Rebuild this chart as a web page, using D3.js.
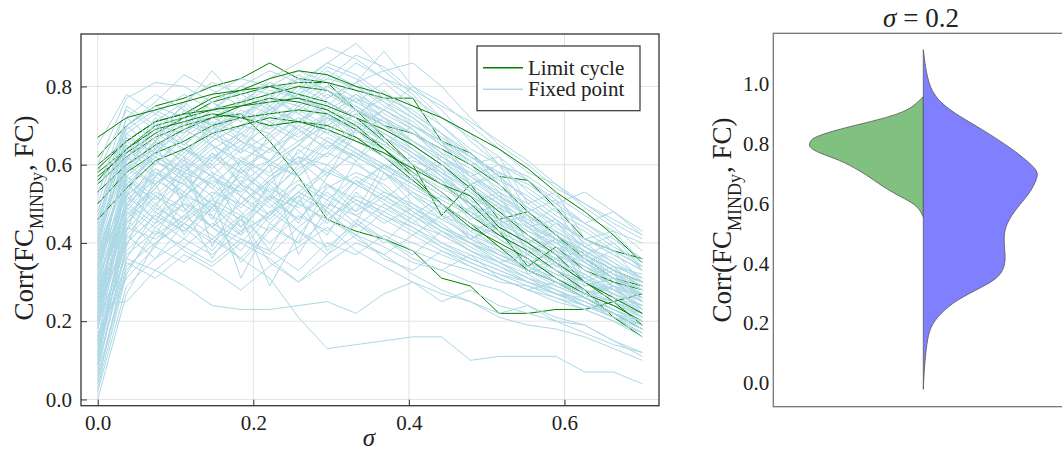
<!DOCTYPE html>
<html>
<head>
<meta charset="utf-8">
<script src="https://cdn.jsdelivr.net/npm/d3@7"></script>
<style>
  body { margin: 0; background: #fff; }
  text { font-family: "Liberation Serif", "DejaVu Serif", serif; fill: #222; }
</style>
</head>
<body>
<div id="chart"></div>
<script>
// sigma grid (20 points from 0 to 0.7)
const sigmaValues = [0, 0.037, 0.074, 0.111, 0.147, 0.184, 0.221, 0.258, 0.295, 0.332,
                     0.368, 0.405, 0.442, 0.479, 0.516, 0.553, 0.589, 0.626, 0.663, 0.7];

// Fixed point subjects (light blue)
const fixedPointSeries = [
  [0.30,0.55,0.62,0.58,0.66,0.70,0.74,0.78,0.82,0.80,0.76,0.70,0.66,0.55,0.57,0.44,0.46,0.35,0.38,0.30],
  [0.12,0.48,0.57,0.64,0.61,0.69,0.75,0.80,0.86,0.91,0.84,0.78,0.70,0.63,0.55,0.48,0.42,0.38,0.33,0.29],
  [0.42,0.63,0.70,0.68,0.74,0.72,0.79,0.77,0.83,0.79,0.73,0.69,0.61,0.55,0.50,0.44,0.38,0.35,0.31,0.27],
  [0.20,0.52,0.58,0.55,0.62,0.66,0.63,0.71,0.75,0.81,0.89,0.80,0.74,0.66,0.60,0.56,0.50,0.45,0.40,0.34],
  [0.35,0.60,0.64,0.71,0.69,0.75,0.80,0.84,0.81,0.77,0.72,0.65,0.60,0.54,0.45,0.47,0.34,0.37,0.26,0.24],
  [0.08,0.40,0.47,0.52,0.49,0.58,0.61,0.66,0.70,0.74,0.71,0.68,0.64,0.57,0.51,0.45,0.41,0.35,0.30,0.26],
  [0.48,0.68,0.73,0.78,0.74,0.80,0.78,0.82,0.79,0.75,0.70,0.64,0.58,0.50,0.46,0.40,0.35,0.30,0.27,0.22],
  [0.25,0.45,0.52,0.48,0.56,0.53,0.60,0.57,0.65,0.62,0.68,0.63,0.59,0.50,0.53,0.40,0.43,0.31,0.34,0.25],
  [0.15,0.38,0.45,0.50,0.44,0.40,0.48,0.52,0.58,0.55,0.60,0.56,0.50,0.45,0.42,0.37,0.33,0.30,0.26,0.22],
  [0.38,0.58,0.66,0.62,0.70,0.73,0.77,0.75,0.80,0.86,0.82,0.79,0.72,0.68,0.60,0.57,0.52,0.47,0.43,0.40],
  [0.22,0.50,0.61,0.57,0.52,0.59,0.64,0.68,0.72,0.70,0.66,0.60,0.56,0.49,0.45,0.39,0.34,0.32,0.27,0.24],
  [0.05,0.33,0.42,0.47,0.53,0.50,0.57,0.62,0.60,0.67,0.64,0.58,0.54,0.50,0.44,0.40,0.36,0.32,0.28,0.23],
  [0.45,0.66,0.71,0.76,0.81,0.78,0.74,0.80,0.76,0.72,0.67,0.62,0.56,0.47,0.50,0.37,0.41,0.29,0.31,0.23],
  [0.28,0.57,0.50,0.56,0.63,0.58,0.52,0.60,0.66,0.62,0.58,0.53,0.49,0.43,0.39,0.36,0.31,0.27,0.24,0.20],
  [0.18,0.46,0.55,0.60,0.66,0.70,0.68,0.75,0.72,0.78,0.74,0.70,0.65,0.60,0.53,0.47,0.42,0.37,0.32,0.30],
  [0.32,0.62,0.68,0.64,0.59,0.65,0.70,0.66,0.72,0.69,0.63,0.57,0.52,0.48,0.42,0.38,0.35,0.30,0.26,0.21],
  [0.10,0.42,0.50,0.44,0.38,0.46,0.52,0.49,0.55,0.51,0.48,0.53,0.47,0.41,0.37,0.33,0.29,0.26,0.23,0.19],
  [0.40,0.64,0.60,0.67,0.72,0.76,0.73,0.79,0.85,0.82,0.77,0.74,0.68,0.63,0.57,0.51,0.46,0.40,0.35,0.31],
  [0.26,0.54,0.63,0.69,0.65,0.60,0.67,0.72,0.68,0.64,0.60,0.55,0.50,0.41,0.44,0.33,0.36,0.27,0.29,0.22],
  [0.55,0.70,0.75,0.72,0.78,0.82,0.80,0.77,0.74,0.78,0.72,0.68,0.62,0.58,0.52,0.47,0.41,0.38,0.34,0.28],
  [0.14,0.44,0.41,0.47,0.42,0.36,0.44,0.40,0.46,0.51,0.47,0.44,0.40,0.37,0.34,0.31,0.28,0.25,0.22,0.18],
  [0.36,0.60,0.55,0.62,0.68,0.64,0.71,0.74,0.79,0.76,0.81,0.75,0.70,0.64,0.60,0.53,0.48,0.44,0.39,0.35],
  [0.19,0.49,0.58,0.53,0.48,0.55,0.51,0.46,0.54,0.58,0.55,0.49,0.45,0.40,0.36,0.33,0.30,0.28,0.24,0.21],
  [0.44,0.61,0.67,0.73,0.70,0.66,0.73,0.78,0.74,0.71,0.67,0.63,0.57,0.49,0.52,0.40,0.36,0.38,0.28,0.27],
  [0.24,0.55,0.48,0.43,0.50,0.46,0.40,0.47,0.43,0.50,0.46,0.42,0.47,0.44,0.38,0.35,0.30,0.27,0.25,0.21],
  [0.31,0.58,0.65,0.61,0.67,0.63,0.68,0.74,0.70,0.75,0.71,0.66,0.61,0.58,0.52,0.48,0.43,0.38,0.34,0.32],
  [0.02,0.29,0.36,0.41,0.37,0.43,0.47,0.53,0.49,0.56,0.52,0.48,0.44,0.41,0.38,0.33,0.30,0.26,0.22,0.18],
  [0.50,0.72,0.78,0.74,0.70,0.76,0.81,0.78,0.84,0.80,0.75,0.71,0.65,0.61,0.55,0.49,0.45,0.39,0.36,0.31],
  [0.21,0.47,0.54,0.62,0.57,0.64,0.61,0.69,0.73,0.67,0.64,0.59,0.55,0.50,0.45,0.41,0.37,0.34,0.30,0.27],
  [0.33,0.56,0.51,0.58,0.55,0.49,0.56,0.62,0.58,0.63,0.58,0.52,0.48,0.41,0.45,0.32,0.35,0.26,0.29,0.23],
  [0.27,0.51,0.57,0.63,0.69,0.73,0.70,0.76,0.82,0.88,0.85,0.79,0.75,0.71,0.66,0.61,0.55,0.50,0.46,0.42],
  [0.16,0.37,0.43,0.39,0.35,0.41,0.38,0.33,0.40,0.37,0.42,0.38,0.35,0.33,0.30,0.29,0.26,0.24,0.21,0.17],
  [0.39,0.65,0.61,0.56,0.62,0.58,0.64,0.60,0.67,0.63,0.59,0.62,0.57,0.52,0.48,0.43,0.40,0.35,0.31,0.28],
  [0.11,0.43,0.52,0.59,0.55,0.61,0.58,0.65,0.62,0.69,0.74,0.70,0.66,0.57,0.60,0.48,0.51,0.39,0.42,0.33],
  [0.46,0.67,0.63,0.70,0.76,0.72,0.77,0.73,0.78,0.74,0.69,0.65,0.60,0.54,0.49,0.45,0.40,0.36,0.32,0.26],
  [0.29,0.53,0.46,0.52,0.58,0.54,0.49,0.55,0.51,0.57,0.53,0.50,0.46,0.42,0.39,0.35,0.32,0.28,0.25,0.22],
  [0.06,0.34,0.40,0.46,0.51,0.47,0.54,0.50,0.46,0.52,0.49,0.45,0.42,0.38,0.35,0.32,0.28,0.25,0.21,0.17],
  [0.53,0.69,0.74,0.70,0.76,0.80,0.84,0.81,0.86,0.83,0.78,0.73,0.68,0.62,0.57,0.51,0.46,0.41,0.37,0.33],
  [0.23,0.56,0.62,0.58,0.64,0.68,0.64,0.70,0.66,0.62,0.58,0.54,0.50,0.43,0.46,0.35,0.38,0.27,0.30,0.25],
  [0.37,0.59,0.66,0.72,0.68,0.74,0.71,0.67,0.73,0.69,0.65,0.60,0.56,0.52,0.47,0.42,0.38,0.34,0.29,0.27],
  [0.13,0.41,0.49,0.45,0.51,0.57,0.53,0.59,0.63,0.60,0.56,0.61,0.58,0.53,0.48,0.43,0.39,0.34,0.31,0.26],
  [0.34,0.52,0.59,0.55,0.50,0.44,0.51,0.56,0.52,0.48,0.53,0.49,0.44,0.40,0.37,0.34,0.31,0.27,0.24,0.22],
  [0.58,0.74,0.69,0.75,0.84,0.76,0.81,0.77,0.73,0.77,0.70,0.66,0.61,0.56,0.51,0.47,0.42,0.37,0.33,0.29],
  [0.09,0.36,0.33,0.39,0.45,0.41,0.37,0.44,0.50,0.47,0.43,0.40,0.37,0.34,0.31,0.28,0.26,0.23,0.20,0.16],
  [0.41,0.62,0.57,0.64,0.60,0.67,0.74,0.71,0.77,0.81,0.84,0.86,0.80,0.72,0.65,0.60,0.54,0.50,0.45,0.41],
  [0.24,0.25,0.33,0.29,0.24,0.23,0.23,0.24,0.25,0.22,0.27,0.30,0.25,0.28,0.24,0.22,0.20,0.19,0.15,0.12],
  [0.17,0.31,0.39,0.35,0.41,0.36,0.31,0.21,0.13,0.14,0.15,0.16,0.16,0.10,0.11,0.11,0.11,0.07,0.07,0.04],
  [0.00,0.27,0.40,0.45,0.41,0.47,0.43,0.50,0.46,0.42,0.39,0.35,0.33,0.30,0.28,0.24,0.21,0.19,0.15,0.11],
  [0.03,0.32,0.44,0.38,0.34,0.40,0.36,0.30,0.35,0.40,0.37,0.32,0.28,0.25,0.22,0.24,0.20,0.17,0.14,0.12],
  [0.60,0.77,0.81,0.80,0.76,0.71,0.77,0.83,0.79,0.74,0.70,0.65,0.60,0.55,0.50,0.46,0.41,0.36,0.32,0.28],
  [0.43,0.70,0.76,0.83,0.79,0.75,0.82,0.86,0.90,0.87,0.82,0.77,0.72,0.67,0.62,0.56,0.51,0.45,0.41,0.36],
  [0.65,0.78,0.73,0.69,0.74,0.79,0.75,0.71,0.76,0.72,0.68,0.64,0.59,0.54,0.50,0.44,0.41,0.37,0.33,0.30],
  [0.19,0.40,0.47,0.43,0.49,0.55,0.61,0.57,0.63,0.69,0.65,0.70,0.66,0.62,0.58,0.54,0.49,0.45,0.48,0.43],
  [0.37,0.57,0.63,0.59,0.65,0.61,0.66,0.72,0.68,0.73,0.77,0.72,0.67,0.62,0.58,0.55,0.50,0.53,0.48,0.42],
  [0.26,0.46,0.53,0.49,0.44,0.50,0.46,0.53,0.59,0.55,0.51,0.47,0.52,0.48,0.44,0.40,0.45,0.41,0.38,0.34],
  [0.31,0.49,0.44,0.50,0.47,0.42,0.48,0.43,0.39,0.45,0.41,0.37,0.43,0.39,0.35,0.37,0.33,0.29,0.31,0.27],
  [0.21,0.59,0.55,0.61,0.57,0.53,0.60,0.65,0.71,0.77,0.74,0.80,0.76,0.70,0.64,0.58,0.55,0.49,0.44,0.38],
  [0.47,0.64,0.69,0.65,0.71,0.68,0.73,0.69,0.64,0.70,0.74,0.69,0.63,0.55,0.58,0.45,0.49,0.37,0.40,0.33],
  [0.14,0.35,0.31,0.37,0.33,0.28,0.34,0.39,0.44,0.38,0.34,0.30,0.27,0.25,0.21,0.19,0.18,0.16,0.13,0.10],
  [0.35,0.50,0.56,0.52,0.57,0.52,0.47,0.53,0.49,0.44,0.50,0.46,0.40,0.36,0.33,0.30,0.27,0.24,0.22,0.19],
  [0.29,0.47,0.55,0.42,0.52,0.31,0.45,0.40,0.55,0.48,0.60,0.52,0.46,0.49,0.41,0.36,0.32,0.30,0.27,0.24],
  [0.18,0.52,0.66,0.49,0.36,0.47,0.29,0.42,0.51,0.45,0.58,0.50,0.44,0.40,0.35,0.31,0.27,0.26,0.22,0.19],
  [0.33,0.61,0.72,0.66,0.58,0.44,0.55,0.62,0.47,0.56,0.50,0.45,0.50,0.42,0.37,0.34,0.30,0.27,0.23,0.20],
  [0.09,0.45,0.54,0.62,0.39,0.52,0.60,0.37,0.49,0.61,0.54,0.48,0.43,0.38,0.34,0.30,0.28,0.24,0.22,0.18],
  [0.40,0.68,0.62,0.74,0.65,0.55,0.68,0.60,0.72,0.66,0.62,0.57,0.60,0.53,0.47,0.44,0.39,0.36,0.31,0.28],
  [0.22,0.58,0.71,0.63,0.70,0.59,0.51,0.64,0.57,0.69,0.62,0.58,0.53,0.46,0.49,0.38,0.41,0.30,0.33,0.25],
  [0.27,0.50,0.45,0.58,0.47,0.35,0.43,0.52,0.38,0.46,0.41,0.36,0.33,0.37,0.31,0.28,0.25,0.23,0.20,0.17],
  [0.07,0.39,0.57,0.51,0.63,0.55,0.47,0.58,0.66,0.61,0.67,0.62,0.57,0.51,0.46,0.42,0.38,0.33,0.29,0.26],
  [0.45,0.72,0.66,0.76,0.70,0.63,0.75,0.69,0.64,0.71,0.66,0.60,0.55,0.50,0.46,0.41,0.37,0.33,0.29,0.25],
  [0.16,0.43,0.61,0.56,0.46,0.59,0.53,0.45,0.57,0.64,0.59,0.55,0.51,0.47,0.43,0.39,0.35,0.31,0.27,0.24],
  [0.30,0.64,0.58,0.53,0.61,0.68,0.60,0.65,0.73,0.68,0.72,0.66,0.62,0.57,0.53,0.49,0.44,0.39,0.35,0.30],
  [0.12,0.46,0.39,0.51,0.44,0.56,0.50,0.43,0.37,0.45,0.40,0.47,0.42,0.38,0.35,0.31,0.29,0.26,0.23,0.20],
  [0.52,0.75,0.70,0.65,0.72,0.69,0.76,0.82,0.77,0.81,0.76,0.72,0.66,0.61,0.56,0.52,0.47,0.43,0.38,0.34],
  [0.20,0.55,0.49,0.60,0.54,0.48,0.38,0.51,0.45,0.54,0.60,0.55,0.50,0.45,0.41,0.37,0.33,0.30,0.28,0.24],
  [0.36,0.53,0.64,0.57,0.49,0.61,0.55,0.48,0.42,0.53,0.47,0.43,0.39,0.35,0.32,0.29,0.27,0.24,0.21,0.18],
  [0.04,0.36,0.48,0.55,0.50,0.42,0.56,0.50,0.60,0.55,0.51,0.57,0.52,0.48,0.43,0.39,0.36,0.31,0.28,0.25],
  [0.42,0.66,0.60,0.68,0.73,0.66,0.61,0.70,0.76,0.72,0.79,0.73,0.68,0.60,0.62,0.50,0.53,0.41,0.43,0.35],
  [0.25,0.57,0.52,0.46,0.57,0.50,0.56,0.61,0.55,0.50,0.45,0.49,0.44,0.40,0.37,0.34,0.31,0.28,0.26,0.23],
  [0.11,0.48,0.42,0.53,0.60,0.52,0.45,0.52,0.48,0.41,0.37,0.42,0.38,0.35,0.32,0.30,0.27,0.24,0.21,0.19],
  [0.38,0.62,0.69,0.75,0.68,0.72,0.78,0.73,0.69,0.73,0.68,0.63,0.58,0.54,0.49,0.45,0.41,0.36,0.32,0.29],
  [0.28,0.49,0.59,0.52,0.44,0.38,0.47,0.55,0.48,0.42,0.48,0.44,0.39,0.36,0.33,0.30,0.27,0.25,0.22,0.20],
  [0.15,0.52,0.46,0.41,0.49,0.43,0.52,0.46,0.53,0.47,0.52,0.47,0.43,0.40,0.36,0.33,0.30,0.27,0.25,0.21],
  [0.34,0.60,0.67,0.60,0.54,0.62,0.57,0.63,0.69,0.64,0.60,0.56,0.62,0.57,0.52,0.47,0.43,0.39,0.34,0.31],
  [0.48,0.70,0.64,0.71,0.67,0.73,0.69,0.75,0.80,0.76,0.72,0.68,0.63,0.59,0.54,0.50,0.45,0.41,0.37,0.33],
  [0.23,0.42,0.36,0.45,0.40,0.46,0.35,0.30,0.37,0.42,0.36,0.33,0.38,0.34,0.31,0.28,0.30,0.26,0.23,0.20]
];

// Limit cycle subjects (green)
const limitCycleSeries = [
  [0.62,0.70,0.75,0.77,0.80,0.82,0.86,0.82,0.81,0.74,0.70,0.68,0.64,0.60,0.55,0.48,0.42,0.37,0.33,0.30],
  [0.58,0.64,0.70,0.72,0.76,0.78,0.80,0.81,0.81,0.79,0.77,0.77,0.66,0.63,0.57,0.56,0.49,0.41,0.38,0.36],
  [0.55,0.62,0.67,0.70,0.72,0.73,0.66,0.57,0.46,0.43,0.41,0.38,0.31,0.29,0.22,0.22,0.23,0.23,0.25,0.27],
  [0.60,0.66,0.71,0.73,0.77,0.79,0.80,0.78,0.76,0.72,0.66,0.60,0.47,0.55,0.46,0.48,0.42,0.36,0.31,0.29],
  [0.57,0.63,0.68,0.72,0.74,0.76,0.78,0.80,0.79,0.74,0.67,0.60,0.55,0.50,0.43,0.34,0.39,0.33,0.30,0.28],
  [0.53,0.60,0.65,0.69,0.72,0.75,0.77,0.76,0.74,0.70,0.64,0.58,0.53,0.47,0.42,0.38,0.33,0.28,0.21,0.16],
  [0.50,0.58,0.63,0.66,0.70,0.72,0.73,0.74,0.73,0.69,0.64,0.57,0.50,0.44,0.40,0.36,0.31,0.27,0.24,0.20],
  [0.46,0.54,0.61,0.64,0.68,0.70,0.72,0.71,0.70,0.67,0.62,0.56,0.50,0.45,0.39,0.33,0.30,0.26,0.22,0.18],
  [0.59,0.66,0.71,0.73,0.74,0.75,0.76,0.77,0.75,0.72,0.69,0.65,0.60,0.54,0.48,0.42,0.37,0.30,0.26,0.22],
  [0.56,0.64,0.69,0.71,0.73,0.72,0.70,0.71,0.69,0.66,0.63,0.59,0.55,0.52,0.44,0.40,0.35,0.30,0.25,0.19],
  [0.67,0.72,0.74,0.76,0.78,0.79,0.82,0.84,0.83,0.80,0.78,0.75,0.72,0.68,0.64,0.59,0.53,0.48,0.42,0.35]
];

// Ticks
const xTicks = [0, 0.2, 0.4, 0.6];
const yTicks = [0, 0.2, 0.4, 0.6, 0.8];
const violinTicks = [0, 0.2, 0.4, 0.6, 0.8, 1.0];

// Violin at sigma = 0.2: correlation value and relative half-width
const violinLimitY = [0.556,0.57,0.595,0.623,0.65,0.679,0.71,0.746,0.77,0.79,0.81,0.824,0.852,0.886,0.91,0.925,0.958];
const violinLimitW = [0,0.02,0.06,0.20,0.33,0.44,0.56,0.74,0.93,1.02,1.0,0.96,0.72,0.33,0.16,0.09,0];
const violinFixedY = [-0.022,0.054,0.132,0.188,0.232,0.277,0.322,0.355,0.40,0.445,0.50,0.545,0.60,0.634,0.67,0.70,0.724,0.78,0.847,0.902,0.958,1.025,1.115];
const violinFixedW = [0,0.01,0.03,0.06,0.15,0.29,0.53,0.68,0.73,0.72,0.71,0.75,0.86,0.94,0.99,1.02,0.98,0.80,0.53,0.27,0.09,0.03,0];

const W = 1062, H = 453;
const svg = d3.select("#chart").append("svg")
    .attr("width", W)
    .attr("height", H);

// ---------- Left panel ----------
const L = {left: 81, right: 659, top: 34, bottom: 405.7};
const x = d3.scaleLinear().domain([-0.0215, 0.7215]).range([L.left, L.right]);
const y = d3.scaleLinear().domain([-0.016, 0.934]).range([L.bottom, L.top]);

// grid
const grid = svg.append("g").attr("stroke", "#e3e3e3").attr("stroke-width", 1);
grid.selectAll(".gx").data(xTicks).enter().append("line")
    .attr("x1", d => x(d)).attr("x2", d => x(d))
    .attr("y1", L.top).attr("y2", L.bottom);
grid.selectAll(".gy").data(yTicks).enter().append("line")
    .attr("x1", L.left).attr("x2", L.right)
    .attr("y1", d => y(d)).attr("y2", d => y(d));

// lines, green ones interleaved among the blue ones
const line = d3.line()
    .x((d, i) => x(sigmaValues[i]))
    .y(d => y(d));

const plotArea = svg.append("g").attr("fill", "none").attr("stroke-width", 1);
let g = 0;
fixedPointSeries.forEach((s, i) => {
    plotArea.append("path").attr("d", line(s)).attr("stroke", "#add8e6");
    if (i % 7 === 3 && g < limitCycleSeries.length) {
        plotArea.append("path").attr("d", line(limitCycleSeries[g])).attr("stroke", "#008000");
        g++;
    }
});
while (g < limitCycleSeries.length) {
    plotArea.append("path").attr("d", line(limitCycleSeries[g])).attr("stroke", "#008000");
    g++;
}

function styleAxis(a) {
    a.attr("font-family", null).attr("font-size", null);
    a.select(".domain").remove();
    a.selectAll("line").attr("stroke", "#333");
    a.selectAll("text").style("font-size", "21px").attr("fill", "#222");
}

// axes (ticks inward)
svg.append("g")
    .attr("transform", `translate(0,${L.bottom})`)
    .call(d3.axisBottom(x).tickValues(xTicks).tickFormat(d3.format(".1f")).tickSize(-6).tickPadding(9))
    .call(styleAxis);

svg.append("g")
    .attr("transform", `translate(${L.left},0)`)
    .call(d3.axisLeft(y).tickValues(yTicks).tickFormat(d3.format(".1f")).tickSize(-6).tickPadding(9))
    .call(styleAxis);

// frame
svg.append("rect")
    .attr("x", L.left).attr("y", L.top)
    .attr("width", L.right - L.left).attr("height", L.bottom - L.top)
    .attr("fill", "none").attr("stroke", "#333").attr("stroke-width", 1.3);

// legend
const leg = svg.append("g").attr("transform", "translate(477,46)");
leg.append("rect").attr("width", 163).attr("height", 64.7)
    .attr("fill", "#fff").attr("stroke", "#333").attr("stroke-width", 1.2);
const legItems = [["Limit cycle", "#008000"], ["Fixed point", "#add8e6"]];
legItems.forEach((d, i) => {
    leg.append("line").attr("x1", 6).attr("x2", 46)
        .attr("y1", 21.7 + i * 21.6).attr("y2", 21.7 + i * 21.6)
        .attr("stroke", d[1]).attr("stroke-width", 1.6);
    leg.append("text").attr("x", 51).attr("y", 21.7 + i * 21.6).attr("dy", "0.33em")
        .style("font-size", "21px").text(d[0]);
});

// axis labels
function corrLabel(sel) {
    sel.append("tspan").text("Corr(FC");
    sel.append("tspan").attr("baseline-shift", "sub").style("font-size", "18px").text("MINDy");
    sel.append("tspan").attr("dx", 1).text(", FC)");
}
svg.append("text")
    .attr("transform", "translate(33,218) rotate(-90)")
    .attr("text-anchor", "middle").style("font-size", "27px")
    .call(corrLabel);

svg.append("text")
    .attr("x", 369).attr("y", 446)
    .attr("text-anchor", "middle").style("font-size", "25px").style("font-style", "italic")
    .text("σ");

// ---------- Right panel: split violin ----------
const R = {left: 773.3, right: 1090, top: 33.3, bottom: 406.7};
const vy = d3.scaleLinear().domain([-0.080, 1.170]).range([R.bottom, R.top]);
const cx = 923.3;
const halfW = d3.scaleLinear().domain([0, 1]).range([0, 113]);

const limitPts = violinLimitY.map((v, i) => [v, violinLimitW[i]]);
const fixedPts = violinFixedY.map((v, i) => [v, violinFixedW[i]]);

const leftArea = d3.area()
    .curve(d3.curveBasis)
    .y(d => vy(d[0]))
    .x0(cx)
    .x1(d => cx - halfW(d[1]));
const rightArea = d3.area()
    .curve(d3.curveBasis)
    .y(d => vy(d[0]))
    .x0(cx)
    .x1(d => cx + halfW(d[1]));

svg.append("path").attr("d", leftArea(limitPts))
    .attr("fill", "#80c080").attr("stroke", "#555").attr("stroke-width", 0.8);
svg.append("path").attr("d", rightArea(fixedPts))
    .attr("fill", "#8080ff").attr("stroke", "#555").attr("stroke-width", 0.8);

svg.append("rect")
    .attr("x", R.left).attr("y", R.top)
    .attr("width", R.right - R.left).attr("height", R.bottom - R.top)
    .attr("fill", "none").attr("stroke", "#777").attr("stroke-width", 1.3);

svg.append("g")
    .attr("transform", `translate(${R.left},0)`)
    .call(d3.axisLeft(vy).tickValues(violinTicks).tickFormat(d3.format(".1f")).tickSize(0).tickPadding(4))
    .call(styleAxis)
    .call(a => a.selectAll("text").attr("fill", "#333"));

svg.append("text")
    .attr("transform", "translate(731,220) rotate(-90)")
    .attr("text-anchor", "middle").style("font-size", "27px")
    .call(corrLabel);

const title = svg.append("text")
    .attr("x", 921).attr("y", 27)
    .attr("text-anchor", "middle").style("font-size", "27px");
title.append("tspan").style("font-style", "italic").text("σ");
title.append("tspan").text(" = 0.2");
</script>
</body>
</html>
